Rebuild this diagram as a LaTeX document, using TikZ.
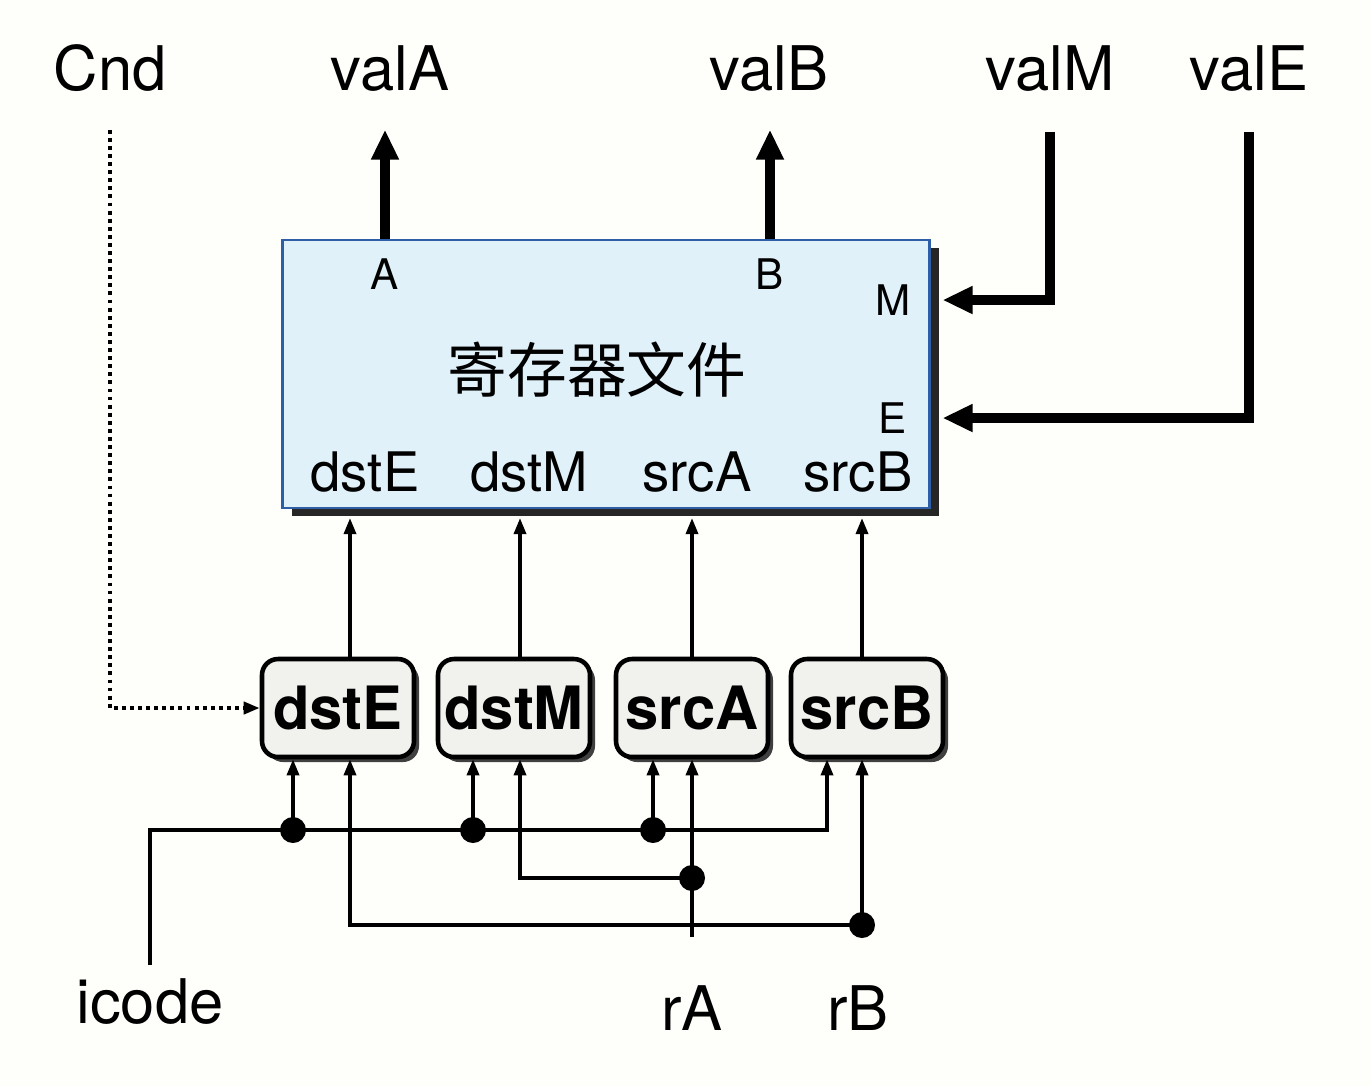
\documentclass[tikz,border=0pt]{standalone}
\usepackage{fontspec}
\setmainfont{TeX Gyre Heros}
\newfontfamily\cjk{Noto Sans CJK SC}
\usetikzlibrary{arrows.meta,shadows}
\definecolor{pagebg}{HTML}{FEFEFA}
\definecolor{rffill}{HTML}{E0F1FA}
\definecolor{rfedge}{HTML}{2E5EA6}
\definecolor{selfill}{HTML}{F1F1EE}

\begin{document}
\begin{tikzpicture}[x=0.1mm, y=-0.1mm,
    lbl/.style={font=\fontsize{17.5}{20}\selectfont, inner sep=0pt, anchor=base},
    port/.style={font=\fontsize{15.5}{18}\selectfont, inner sep=0pt},
    pin/.style={font=\fontsize{12}{14}\selectfont, inner sep=0pt},
    regfile/.style={draw=rfedge, line width=0.6pt, fill=rffill,
                    minimum width=64.7mm, minimum height=26.8mm,
                    drop shadow={shadow xshift=0.9mm, shadow yshift=-0.8mm, fill=black!85, opacity=1}},
    selbox/.style={draw, line width=1.3pt, rounded corners=1.6mm, fill=selfill,
                   minimum width=15.2mm, minimum height=9.8mm, inner sep=1pt,
                   font=\bfseries\fontsize{17}{20}\selectfont,
                   drop shadow={shadow xshift=0.5mm, shadow yshift=-0.5mm, fill=black!75, opacity=1}},
    bus/.style={line width=3pt, -{Triangle[length=3mm, width=2.6mm]}},
    wire/.style={line width=0.95pt, -{Triangle[length=1.6mm, width=1.2mm]}},
    ctl/.style={line width=1.1pt, dash pattern=on 1.1pt off 1.2pt, -{Triangle[length=1.6mm, width=1.2mm]}},
    dot/.style={circle, fill, inner sep=0pt, minimum size=2.6mm},
]
  \fill[pagebg] (0,0) rectangle (1371,1086);
  \useasboundingbox (0,0) rectangle (1371,1086);

  % register file
  \node[regfile] (rf) at (606,374) {};
  \node[font=\cjk\fontsize{17}{20}\selectfont] (rfname) at (597,370) {寄存器文件};
  \node[pin] (pA) at (385,274) {A};
  \node[pin] (pB) at (770,274) {B};
  \node[pin] (pM) at (893,300) {M};
  \node[pin] (pE) at (893,418) {E};
  \node[port] (pdstE) at (365,472) {dstE};
  \node[port] (pdstM) at (529,472) {dstM};
  \node[port] (psrcA) at (697,472) {srcA};
  \node[port] (psrcB) at (858,472) {srcB};

  % top signals
  \node[lbl] (Cnd)  at (110,90)  {Cnd};
  \node[lbl] (valA) at (390,90)  {valA};
  \node[lbl] (valB) at (769,90)  {valB};
  \node[lbl] (valM) at (1050,90) {valM};
  \node[lbl] (valE) at (1249,90) {valE};

  \draw[bus, shorten >=3.8mm] (pA |- rf.north) -- (pA |- valA.south);
  \draw[bus, shorten >=3.8mm] (pB |- rf.north) -- (pB |- valB.south);
  \draw[bus, shorten <=4mm, shorten >=1.2mm] (valM.south) |- (pM -| rf.east);
  \draw[bus, shorten <=4mm, shorten >=1.2mm] (valE.south) |- (pE -| rf.east);

  % register id logic
  \node[selbox] (sE) at (338,708) {dstE};
  \node[selbox] (sM) at (514,708) {dstM};
  \node[selbox] (sA) at (692,708) {srcA};
  \node[selbox] (sB) at (867,708) {srcB};

  \coordinate (cE) at (350,0);
  \coordinate (cM) at (520,0);
  \coordinate (cA) at (692,0);
  \coordinate (cB) at (862,0);
  \coordinate (tB) at (827,0);

  \foreach \s/\c in {sE/cE, sM/cM, sA/cA, sB/cB}
    \draw[wire, shorten >=0.9mm] (\s.north -| \c) -- (\c |- rf.south);

  \draw[ctl, shorten <=3.8mm] (Cnd.south) |- (sE.west);

  % bottom inputs
  \node[lbl] (icode) at (150,1023) {icode};
  \node[lbl] (rA) at (692,1030) {rA};
  \node[lbl] (rB) at (858,1030) {rB};

  \node[dot] (jE) at (293,830) {};
  \node[dot] (jM) at (473,830) {};
  \node[dot] (jA) at (653,830) {};
  \node[dot] (jrA) at (692,878) {};
  \node[dot] (jrB) at (862,925) {};

  \draw[wire, shorten <=1.2mm] (icode.north) |- (jE.center) -- (jM.center) -- (jA.center) -| (tB |- sB.south);
  \foreach \j in {jE, jM, jA}
    \draw[wire] (\j.center) -- (\j |- sE.south);

  \draw[wire, shorten <=4.7mm] (rA.north) -- (cA |- sA.south);
  \draw[wire] (jrA.center) -| (cM |- sM.south);
  \draw[wire, shorten <=4.7mm] (rB.north -| cB) -- (cB |- sB.south);
  \draw[wire] (jrB.center) -| (cE |- sE.south);
\end{tikzpicture}
\end{document}
